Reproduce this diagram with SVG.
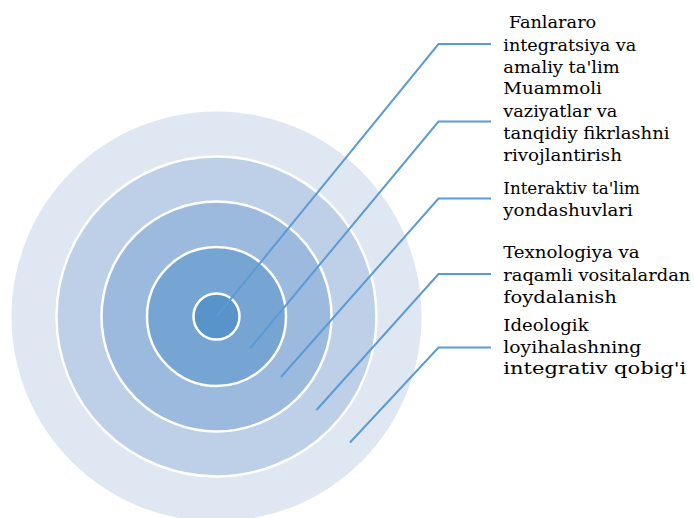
<svg xmlns="http://www.w3.org/2000/svg" width="694" height="518" viewBox="0 0 694 518">
<style>
.ring{stroke:#FFFFFF;stroke-width:2.5}
.conn{fill:none;stroke:#5B9BD5;stroke-width:2}
.lbl{font-family:"DejaVu Serif Condensed","DejaVu Serif","Liberation Serif",serif;font-stretch:condensed;font-size:17.5px;fill:#000000}
</style>
<rect width="694" height="518" fill="#FFFFFF"/>
<g id="ring5"><circle cx="216.5" cy="316.5" r="205" fill="#DFE7F3"/></g>
<g id="ring4"><circle class="ring" cx="216.5" cy="316.5" r="160" fill="#BED0E7"/></g>
<g id="ring3"><circle class="ring" cx="216.5" cy="316.5" r="115" fill="#9BBADD"/></g>
<g id="ring2"><circle class="ring" cx="216.5" cy="316.5" r="69.5" fill="#77A5D3"/></g>
<g id="ring1"><circle class="ring" cx="216.5" cy="316.5" r="23" fill="#5893C9"/></g>
<g id="connectors">
<polyline class="conn" points="216.5,316.5 438.5,44 491,44"/>
<polyline class="conn" points="250,348.5 438.5,121.5 491,121.5"/>
<polyline class="conn" points="281,377 438.5,198.5 491,198.5"/>
<polyline class="conn" points="316.5,410 438.5,274 491,274"/>
<polyline class="conn" points="350,442.5 438.5,347.5 491,347.5"/>
</g>
<g id="label1" class="lbl">
<text x="503.3" y="28.3" xml:space="preserve" textLength="93" lengthAdjust="spacingAndGlyphs"> Fanlararo</text>
<text x="503.3" y="50.7" textLength="133" lengthAdjust="spacingAndGlyphs">integratsiya va</text>
<text x="503.3" y="72.7" textLength="116.3" lengthAdjust="spacingAndGlyphs">amaliy ta'lim</text>
</g>
<g id="label2" class="lbl">
<text x="503.3" y="94.3" textLength="98.6" lengthAdjust="spacingAndGlyphs">Muammoli</text>
<text x="503.3" y="116.7" textLength="114" lengthAdjust="spacingAndGlyphs">vaziyatlar va</text>
<text x="503.3" y="139.3" textLength="166.3" lengthAdjust="spacingAndGlyphs">tanqidiy fikrlashni</text>
<text x="503.3" y="161" textLength="118.6" lengthAdjust="spacingAndGlyphs">rivojlantirish</text>
</g>
<g id="label3" class="lbl">
<text x="503.3" y="194" textLength="136.6" lengthAdjust="spacingAndGlyphs">Interaktiv ta'lim</text>
<text x="503.3" y="216" textLength="129.6" lengthAdjust="spacingAndGlyphs">yondashuvlari</text>
</g>
<g id="label4" class="lbl">
<text x="503.3" y="258.3" textLength="136.3" lengthAdjust="spacingAndGlyphs">Texnologiya va</text>
<text x="503.3" y="281" textLength="187" lengthAdjust="spacingAndGlyphs">raqamli vositalardan</text>
<text x="503.3" y="302.7" textLength="113.6" lengthAdjust="spacingAndGlyphs">foydalanish</text>
</g>
<g id="label5" class="lbl">
<text x="503.3" y="330.7" textLength="85.3" lengthAdjust="spacingAndGlyphs">Ideologik</text>
<text x="503.3" y="352.7" textLength="138" lengthAdjust="spacingAndGlyphs">loyihalashning</text>
<text x="503.3" y="374" textLength="183" lengthAdjust="spacingAndGlyphs">integrativ qobig'i</text>
</g>
</svg>
